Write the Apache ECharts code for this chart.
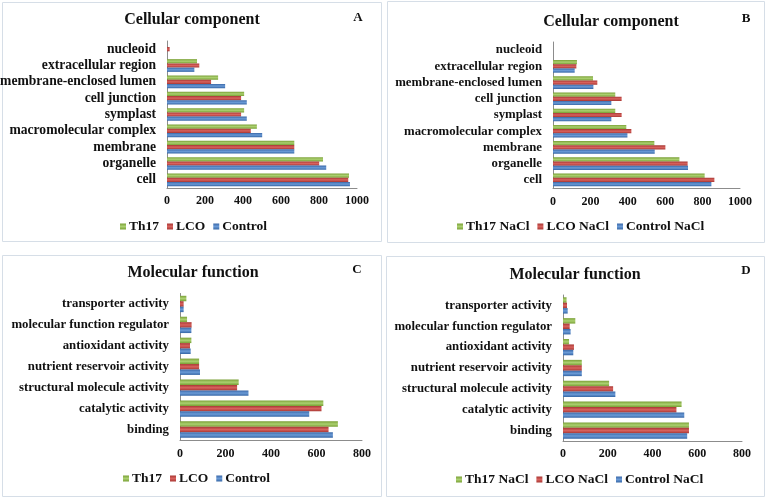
<!DOCTYPE html>
<html><head><meta charset="utf-8">
<script src="https://cdn.jsdelivr.net/npm/echarts@6/dist/echarts.min.js"></script>
<style>html,body{margin:0;padding:0;background:#fff}#c{width:766px;height:499px}</style>
</head><body><div id="c"></div>
<script>
// Cellular component categories (bottom to top)
const ccCategories = ['cell','organelle','membrane','macromolecular complex','symplast','cell junction','membrane-enclosed lumen','extracellular region','nucleoid'];
const ccControl = [963, 838, 670, 501, 420, 420, 306, 144, 0];
const ccLCO     = [954, 801, 670, 441, 390, 390, 232, 170, 14];
const ccTh17    = [958, 821, 670, 473, 406, 406, 269, 158, 0];
const ccControlNaCl = [847, 722, 544, 398, 312, 312, 216, 116, 0];
const ccLCONaCl     = [863, 720, 601, 419, 367, 367, 237, 125, 0];
const ccTh17NaCl    = [811, 676, 542, 392, 333, 333, 214, 128, 0];
// Molecular function categories (bottom to top)
const mfCategories = ['binding','catalytic activity','structural molecule activity','nutrient reservoir activity','antioxidant activity','molecular function regulator','transporter activity'];
const mfControl = [672, 568, 301, 88, 47, 50, 16];
const mfLCO     = [653, 622, 251, 84, 44, 51, 16];
const mfTh17    = [694, 630, 258, 84, 50, 31, 28];
const mfControlNaCl = [555, 542, 234, 84, 46, 34, 21];
const mfLCONaCl     = [563, 507, 224, 84, 49, 30, 18];
const mfTh17NaCl    = [563, 530, 206, 84, 27, 55, 16];
const ccTicks = [0, 200, 400, 600, 800, 1000];
const mfTicks = [0, 200, 400, 600, 800];

const F = 'Liberation Serif, Times New Roman, serif';
function grad(a, b, c) {
  return new echarts.graphic.LinearGradient(0, 0, 0, 1, [
    {offset: 0, color: a}, {offset: 0.5, color: b}, {offset: 1, color: c}]);
}
const cBlue = grad('#3a68a8', '#6a9ad6', '#3566a6');
const cRed = grad('#a83733', '#d8625e', '#a93632');
const cGreen = grad('#7aa036', '#abd070', '#78a034');
const legendColors = {blue: '#4a7ebf', red: '#c0433f', green: '#8cb845'};

const panels = [
  {grid: {left: 167, top: 41, width: 190, height: 147}, cats: ccCategories, ticks: ccTicks,
   data: [ccTh17, ccLCO, ccControl], names: ['Th17', 'LCO', 'Control'],
   title: 'Cellular component', tx: 192, ty: 12, letter: 'A', lx: 358, ly: 11.5, legX: 120, legY: 219.5, fs: 13.6, margin: 7},
  {grid: {left: 553, top: 42, width: 187, height: 146}, cats: ccCategories, ticks: ccTicks,
   data: [ccTh17NaCl, ccLCONaCl, ccControlNaCl], names: ['Th17 NaCl', 'LCO NaCl', 'Control NaCl'],
   title: 'Cellular component', tx: 611, ty: 13.5, letter: 'B', lx: 746, ly: 12.5, legX: 457, legY: 219.5, fs: 12.8, margin: 8},
  {grid: {left: 180, top: 293.5, width: 182, height: 146.5}, cats: mfCategories, ticks: mfTicks,
   data: [mfTh17, mfLCO, mfControl], names: ['Th17', 'LCO', 'Control'],
   title: 'Molecular function', tx: 193, ty: 265, letter: 'C', lx: 357, ly: 263.5, legX: 123, legY: 471.5, fs: 12.8, margin: 8},
  {grid: {left: 563, top: 295, width: 179, height: 146}, cats: mfCategories, ticks: mfTicks,
   data: [mfTh17NaCl, mfLCONaCl, mfControlNaCl], names: ['Th17 NaCl', 'LCO NaCl', 'Control NaCl'],
   title: 'Molecular function', tx: 575, ty: 266.5, letter: 'D', lx: 746, ly: 264, legX: 456, legY: 472.5, fs: 12.8, margin: 7}
];

const option = {animation: false, backgroundColor: '#fff', grid: [], xAxis: [], yAxis: [], series: [], title: [], legend: [],
  graphic: [
    {type: 'rect', shape: {x: 2.5, y: 2.5, width: 379, height: 239}, style: {fill: 'none', stroke: '#d6dee7', lineWidth: 1}},
    {type: 'rect', shape: {x: 387.5, y: 1.5, width: 377, height: 241}, style: {fill: 'none', stroke: '#d6dee7', lineWidth: 1}},
    {type: 'rect', shape: {x: 2.5, y: 255.5, width: 379, height: 241}, style: {fill: 'none', stroke: '#d6dee7', lineWidth: 1}},
    {type: 'rect', shape: {x: 386.5, y: 256.5, width: 378, height: 240}, style: {fill: 'none', stroke: '#d6dee7', lineWidth: 1}}
  ]};
const fills = [cGreen, cRed, cBlue];
const lcols = [legendColors.green, legendColors.red, legendColors.blue];
panels.forEach((p, i) => {
  option.grid.push(Object.assign({containLabel: false, outerBoundsMode: 'none'}, p.grid));
  option.xAxis.push({type: 'value', gridIndex: i, min: p.ticks[0], max: p.ticks[p.ticks.length - 1], interval: 200,
    axisLine: {show: true, lineStyle: {color: '#8c8c8c', width: 1}}, axisTick: {show: false}, splitLine: {show: false},
    axisLabel: {color: '#111', fontFamily: F, fontWeight: 'bold', fontSize: 12, margin: p.margin, formatter: v => String(v)}});
  option.yAxis.push({type: 'category', gridIndex: i, data: p.cats,
    axisLine: {show: true, lineStyle: {color: '#8c8c8c', width: 1}}, axisTick: {show: false},
    axisLabel: {color: '#111', fontFamily: F, fontWeight: 'bold', fontSize: p.fs, margin: 11, interval: 0}});
  p.data.forEach((d, k) => {
    option.series.push({type: 'bar', name: p.names[k], xAxisIndex: i, yAxisIndex: i, data: d,
      barGap: '0%', barCategoryGap: '22%', color: lcols[k], itemStyle: {color: fills[k]}});
  });
  option.title.push({text: p.title, left: p.tx, top: p.ty, textAlign: 'center', padding: 0,
    textStyle: {fontFamily: F, fontWeight: 'bold', fontSize: 16, color: '#111'}});
  option.title.push({text: p.letter, left: p.lx, top: p.ly, textAlign: 'center', padding: 0,
    textStyle: {fontFamily: F, fontWeight: 'bold', fontSize: 13, color: '#111'}});
  option.legend.push({data: p.names.slice(), left: p.legX, top: p.legY, orient: 'horizontal', padding: 0,
    icon: 'rect', itemWidth: 6, itemHeight: 6, itemGap: 8,
    textStyle: {fontFamily: F, fontWeight: 'bold', fontSize: 13.5, color: '#111', padding: [0, 0, 0, -2]}});
});
const chart = echarts.init(document.getElementById('c'), null, {renderer: 'canvas'});
chart.setOption(option);
</script></body></html>
